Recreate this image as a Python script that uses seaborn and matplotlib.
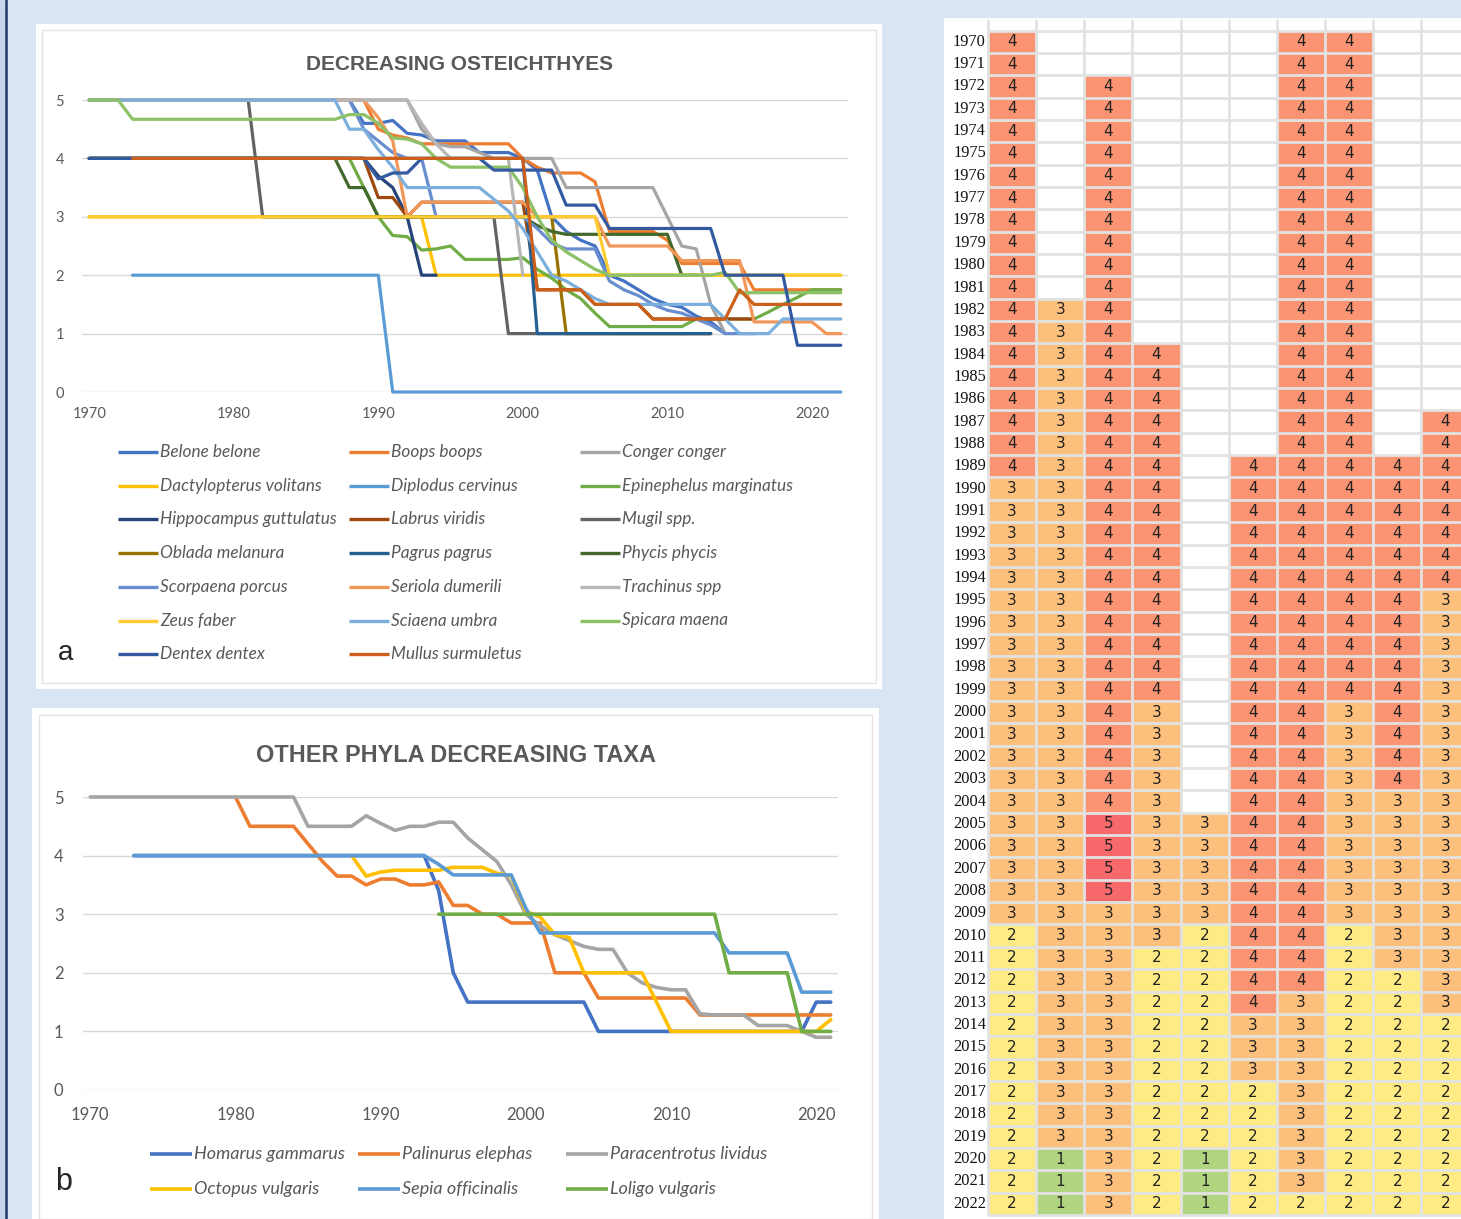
import numpy as np
import pandas as pd
import matplotlib
matplotlib.use("Agg")
import matplotlib.pyplot as plt
from matplotlib.colors import LinearSegmentedColormap
from matplotlib.patches import Rectangle
from matplotlib.lines import Line2D
import seaborn as sns

N = None

# ---------------- panel a: decreasing Osteichthyes (yearly, 1970-2022) ----------------
YEAR0_A = 1970
species_a = ['Belone belone', 'Boops boops', 'Conger conger',
             'Dactylopterus volitans', 'Diplodus cervinus', 'Epinephelus marginatus',
             'Hippocampus guttulatus', 'Labrus viridis', 'Mugil spp.',
             'Oblada melanura', 'Pagrus pagrus', 'Phycis phycis',
             'Scorpaena porcus', 'Seriola dumerili', 'Trachinus spp',
             'Zeus faber', 'Sciaena umbra', 'Spicara maena',
             'Dentex dentex', 'Mullus surmuletus']
colors_a = ['#4472C4', '#ED7D31', '#A5A5A5', '#FFC000', '#5B9BD5', '#70AD47',
            '#264478', '#9E480E', '#636363', '#997300', '#255E91', '#43682B',
            '#698ED0', '#F1975A', '#B7B7B7', '#FFCD33', '#7CAFDD', '#8CC168',
            '#335AA1', '#CC5F1A']

belone = [5, 5, 5, 5, 5, 5, 5, 5, 5, 5,
          5, 5, 5, 5, 5, 5, 5, 5, 5, 4.6,
          4.6, 4.65, 4.43, 4.4, 4.3, 4.3, 4.3, 4.1, 4.1, 4.1,
          4.0, 3.8, 3.0, 2.75, 2.6, 2.5, 2.0, 1.9, 1.75, 1.6,
          1.5, 1.45, 1.3, 1.2, 1.0, N, N, N, N, N,
          N, N, N]
boops = [5, 5, 5, 5, 5, 5, 5, 5, 5, 5,
         5, 5, 5, 5, 5, 5, 5, 5, 5, 5,
         4.5, 4.4, 4.35, 4.25, 4.25, 4.25, 4.25, 4.25, 4.25, 4.25,
         4.0, 3.85, 3.75, 3.75, 3.75, 3.6, 2.75, 2.75, 2.75, 2.75,
         2.6, 2.2, 2.2, 2.2, 2.2, 2.2, 1.75, 1.75, 1.75, 1.75,
         1.75, 1.75, 1.75]
conger = [5, 5, 5, 5, 5, 5, 5, 5, 5, 5,
          5, 5, 5, 5, 5, 5, 5, 5, 5, 5,
          5, 5, 5, 4.5, 4.25, 4.2, 4.2, 4.1, 4.0, 4.0,
          4.0, 4.0, 4.0, 3.5, 3.5, 3.5, 3.5, 3.5, 3.5, 3.5,
          3.0, 2.5, 2.45, 1.5, 1.0, N, N, N, N, N,
          N, N, N]
dactylopterus = [3, 3, 3, 3, 3, 3, 3, 3, 3, 3,
                 3, 3, 3, 3, 3, 3, 3, 3, 3, 3,
                 3, 3, 3, 3, 2, 2, 2, 2, 2, 2,
                 2, 2, 2, 2, 2, 2, 2, 2, 2, 2,
                 2, 2, 2, 2, 2, 2, 2, 2, 2, 2,
                 2, 2, 2]
diplodus = [N, N, N, 2, 2, 2, 2, 2, 2, 2,
            2, 2, 2, 2, 2, 2, 2, 2, 2, 2,
            2, 0, 0, 0, 0, 0, 0, 0, 0, 0,
            0, 0, 0, 0, 0, 0, 0, 0, 0, 0,
            0, 0, 0, 0, 0, 0, 0, 0, 0, 0,
            0, 0, 0]
epinephelus = [4, 4, 4, 4, 4, 4, 4, 4, 4, 4,
               4, 4, 4, 4, 4, 4, 4, 4, 4, 3.5,
               3.0, 2.68, 2.66, 2.43, 2.45, 2.5, 2.27, 2.27, 2.27, 2.27,
               2.3, 2.1, 1.95, 1.75, 1.6, 1.35, 1.12, 1.12, 1.12, 1.12,
               1.12, 1.12, 1.25, 1.25, 1.25, 1.25, 1.25, 1.37, 1.5, 1.62,
               1.75, 1.75, 1.75]
hippocampus = [4, 4, 4, 4, 4, 4, 4, 4, 4, 4,
               4, 4, 4, 4, 4, 4, 4, 4, 4, 4,
               3.7, 3.5, 3.0, 2.0, 2.0, N, N, N, N, N,
               N, N, N, N, N, N, N, N, N, N,
               N, N, N, N, N, N, N, N, N, N,
               N, N, N]
labrus = [4, 4, 4, 4, 4, 4, 4, 4, 4, 4,
          4, 4, 4, 4, 4, 4, 4, 4, 4, 4,
          3.33, 3.33, 3.0, 3.25, 3.25, 3.25, 3.25, 3.25, 3.25, 3.25,
          3.25, 1.75, 1.75, 1.75, 1.75, 1.5, 1.5, 1.5, 1.5, 1.25,
          1.25, 1.25, 1.25, 1.25, 1.25, 1.25, 1.25, N, N, N,
          N, N, N]
mugil = [N, N, N, N, N, 5, 5, 5, 5, 5,
         5, 5, 3, 3, 3, 3, 3, 3, 3, 3,
         3, 3, 3, 3, 3, 3, 3, 3, 3, 1,
         1, 1, 1, 1, 1, 1, 1, 1, 1, 1,
         1, 1, 1, 1, N, N, N, N, N, N,
         N, N, N]
oblada = [N, N, N, N, N, N, N, N, N, N,
          N, N, N, N, N, N, N, N, N, N,
          3, 3, 3, 3, 3, 3, 3, 3, 3, 3,
          3, 3, 3, 1, 1, 1, 1, 1, 1, 1,
          1, 1, 1, 1, N, N, N, N, N, N,
          N, N, N]
pagrus = [4, 4, 4, 4, 4, 4, 4, 4, 4, 4,
          4, 4, 4, 4, 4, 4, 4, 4, 4, 4,
          4, 4, 4, 4, 4, 4, 4, 4, 4, 4,
          4, 1, 1, 1, 1, 1, 1, 1, 1, 1,
          1, 1, 1, 1, N, N, N, N, N, N,
          N, N, N]
phycis = [4, 4, 4, 4, 4, 4, 4, 4, 4, 4,
          4, 4, 4, 4, 4, 4, 4, 4, 3.5, 3.5,
          3, 3, 3, 3, 3, 3, 3, 3, 3, 3,
          3.0, 2.85, 2.75, 2.7, 2.7, 2.7, 2.7, 2.7, 2.7, 2.7,
          2.7, 2.0, 2.0, N, N, N, N, N, N, N,
          N, N, N]
scorpaena = [5, 5, 5, 5, 5, 5, 5, 5, 5, 5,
             5, 5, 5, 5, 5, 5, 5, 5, 5, 4.5,
             4.3, 4.1, 4.0, 4.0, 3.0, 3.0, 3.0, 3.0, 3.0, 3.0,
             3.0, 2.8, 2.55, 2.45, 2.45, 2.45, 1.9, 1.75, 1.65, 1.5,
             1.4, 1.35, 1.25, 1.15, 1.0, 1.0, 1.0, N, N, N,
             N, N, N]
seriola = [5, 5, 5, 5, 5, 5, 5, 5, 5, 5,
           5, 5, 5, 5, 5, 5, 5, 5, 5, 5,
           4.7, 4.3, 3.0, 3.25, 3.25, 3.25, 3.25, 3.25, 3.25, 3.25,
           3.25, 3.0, 3.0, 3.0, 3.0, 3.0, 2.5, 2.5, 2.5, 2.5,
           2.5, 2.25, 2.25, 2.25, 2.25, 2.25, 1.2, 1.2, 1.2, 1.2,
           1.2, 1.0, 1.0]
trachinus = [5, 5, 5, 5, 5, 5, 5, 5, 5, 5,
             5, 5, 5, 5, 5, 5, 5, 5, 5, 5,
             5, 5, 5, 4.6, 4.25, 4.0, 4.0, 4.0, 4.0, 4.0,
             2.0, N, N, N, N, N, N, N, N, N,
             N, N, N, N, N, N, N, N, N, N,
             N, N, N]
zeus = [3, 3, 3, 3, 3, 3, 3, 3, 3, 3,
        3, 3, 3, 3, 3, 3, 3, 3, 3, 3,
        3, 3, 3, 3, 3, 3, 3, 3, 3, 3,
        3, 3, 3, 3, 3, 3, 2, 2, 2, 2,
        2, 2, 2, 2, 2, 2, 2, 2, 2, 2,
        2, 2, 2]
sciaena = [5, 5, 5, 5, 5, 5, 5, 5, 5, 5,
           5, 5, 5, 5, 5, 5, 5, 5, 4.5, 4.5,
           4.15, 3.85, 3.5, 3.5, 3.5, 3.5, 3.5, 3.5, 3.3, 3.1,
           2.8, 2.4, 2.0, 1.9, 1.75, 1.6, 1.5, 1.5, 1.5, 1.5,
           1.5, 1.5, 1.5, 1.5, 1.25, 1.0, 1.0, 1.0, 1.25, 1.25,
           1.25, 1.25, 1.25]
spicara = [5, 5, 5, 4.67, 4.67, 4.67, 4.67, 4.67, 4.67, 4.67,
           4.67, 4.67, 4.67, 4.67, 4.67, 4.67, 4.67, 4.67, 4.75, 4.75,
           4.6, 4.35, 4.33, 4.25, 4.0, 3.85, 3.85, 3.85, 3.85, 3.85,
           3.5, 3.0, 2.6, 2.4, 2.25, 2.1, 2.0, 2.0, 2.0, 2.0,
           2.0, 2.0, 2.0, 2.0, 2.05, 1.7, 1.7, 1.7, 1.7, 1.7,
           1.7, 1.7, 1.7]
dentex = [4, 4, 4, 4, 4, 4, 4, 4, 4, 4,
          4, 4, 4, 4, 4, 4, 4, 4, 4, 4,
          3.65, 3.75, 3.75, 4.0, 4.0, 4.0, 4.0, 4.0, 3.8, 3.8,
          3.8, 3.8, 3.8, 3.2, 3.2, 3.2, 2.8, 2.8, 2.8, 2.8,
          2.8, 2.8, 2.8, 2.8, 2.0, 2.0, 2.0, 2.0, 2.0, 0.8,
          0.8, 0.8, 0.8]
mullus = [N, N, N, 4, 4, 4, 4, 4, 4, 4,
          4, 4, 4, 4, 4, 4, 4, 4, 4, 4,
          4, 4, 4, 4, 4, 4, 4, 4, 4, 4,
          4, 1.75, 1.75, 1.75, 1.75, 1.5, 1.5, 1.5, 1.5, 1.25,
          1.25, 1.25, 1.25, 1.25, 1.25, 1.75, 1.5, 1.5, 1.5, 1.5,
          1.5, 1.5, 1.5]
series_a = [belone, boops, conger, dactylopterus, diplodus, epinephelus,
            hippocampus, labrus, mugil, oblada, pagrus, phycis,
            scorpaena, seriola, trachinus, zeus, sciaena, spicara,
            dentex, mullus]

# ---------------- panel b: other phyla (yearly, 1970-2021) ----------------
YEAR0_B = 1970
species_b = ['Homarus gammarus', 'Palinurus elephas', 'Paracentrotus lividus',
             'Octopus vulgaris', 'Sepia officinalis', 'Loligo vulgaris']
colors_b = ['#4472C4', '#ED7D31', '#A5A5A5', '#FFC000', '#5B9BD5', '#70AD47']

homarus = [N, N, N, 4, 4, 4, 4, 4, 4, 4,
           4, 4, 4, 4, 4, 4, 4, 4, 4, 4,
           4, 4, 4, 4, 3.4, 2.0, 1.5, 1.5, 1.5, 1.5,
           1.5, 1.5, 1.5, 1.5, 1.5, 1.0, 1.0, 1.0, 1.0, 1.0,
           1.0, 1.0, 1.0, 1.0, 1.0, 1.0, 1.0, 1.0, 1.0, 1.0,
           1.5, 1.5]
palinurus = [N, N, N, N, N, N, N, N, N, N,
             5, 4.5, 4.5, 4.5, 4.5, 4.2, 3.9, 3.65, 3.65, 3.5,
             3.6, 3.6, 3.5, 3.5, 3.55, 3.15, 3.15, 3.0, 3.0, 2.85,
             2.85, 2.85, 2.0, 2.0, 2.0, 1.57, 1.57, 1.57, 1.57, 1.57,
             1.57, 1.57, 1.28, 1.28, 1.28, 1.28, 1.28, 1.28, 1.28, 1.28,
             1.28, 1.28]
paracentrotus = [5, 5, 5, 5, 5, 5, 5, 5, 5, 5,
                 5, 5, 5, 5, 5, 4.5, 4.5, 4.5, 4.5, 4.68,
                 4.55, 4.43, 4.5, 4.5, 4.57, 4.57, 4.3, 4.1, 3.9, 3.5,
                 3.0, 2.8, 2.65, 2.55, 2.45, 2.4, 2.4, 2.0, 1.83, 1.75,
                 1.71, 1.71, 1.3, 1.28, 1.28, 1.28, 1.1, 1.1, 1.1, 1.0,
                 0.9, 0.9]
octopus = [N, N, N, N, N, N, N, N, N, N,
           N, N, N, N, N, N, N, N, 4.0, 3.65,
           3.72, 3.75, 3.75, 3.75, 3.75, 3.8, 3.8, 3.8, 3.7, 3.65,
           3.05, 2.95, 2.65, 2.6, 2.0, 2.0, 2.0, 2.0, 2.0, 1.5,
           1.0, 1.0, 1.0, 1.0, 1.0, 1.0, 1.0, 1.0, 1.0, 1.0,
           1.0, 1.2]
sepia = [N, N, N, 4, 4, 4, 4, 4, 4, 4,
         4, 4, 4, 4, 4, 4, 4, 4, 4, 4,
         4, 4, 4, 4, 3.85, 3.67, 3.67, 3.67, 3.67, 3.67,
         3.1, 2.68, 2.68, 2.68, 2.68, 2.68, 2.68, 2.68, 2.68, 2.68,
         2.68, 2.68, 2.68, 2.68, 2.34, 2.34, 2.34, 2.34, 2.34, 1.67,
         1.67, 1.67]
loligo = [N, N, N, N, N, N, N, N, N, N,
          N, N, N, N, N, N, N, N, N, N,
          N, N, N, N, 3, 3, 3, 3, 3, 3,
          3, 3, 3, 3, 3, 3, 3, 3, 3, 3,
          3, 3, 3, 3, 2, 2, 2, 2, 2, 1.0,
          1.0, 1.0]
series_b = [homarus, palinurus, paracentrotus, octopus, sepia, loligo]

# ---------------- heat table: class per year (1970-2022), ten taxa ----------------
heat_years = list(range(1970, 2023))
heat_t1 = [4, 4, 4, 4, 4, 4, 4, 4, 4, 4,
           4, 4, 4, 4, 4, 4, 4, 4, 4, 4,
           3, 3, 3, 3, 3, 3, 3, 3, 3, 3,
           3, 3, 3, 3, 3, 3, 3, 3, 3, 3,
           2, 2, 2, 2, 2, 2, 2, 2, 2, 2,
           2, 2, 2]
heat_t2 = [N, N, N, N, N, N, N, N, N, N,
           N, N, 3, 3, 3, 3, 3, 3, 3, 3,
           3, 3, 3, 3, 3, 3, 3, 3, 3, 3,
           3, 3, 3, 3, 3, 3, 3, 3, 3, 3,
           3, 3, 3, 3, 3, 3, 3, 3, 3, 3,
           1, 1, 1]
heat_t3 = [N, N, 4, 4, 4, 4, 4, 4, 4, 4,
           4, 4, 4, 4, 4, 4, 4, 4, 4, 4,
           4, 4, 4, 4, 4, 4, 4, 4, 4, 4,
           4, 4, 4, 4, 4, 5, 5, 5, 5, 3,
           3, 3, 3, 3, 3, 3, 3, 3, 3, 3,
           3, 3, 3]
heat_t4 = [N, N, N, N, N, N, N, N, N, N,
           N, N, N, N, 4, 4, 4, 4, 4, 4,
           4, 4, 4, 4, 4, 4, 4, 4, 4, 4,
           3, 3, 3, 3, 3, 3, 3, 3, 3, 3,
           3, 2, 2, 2, 2, 2, 2, 2, 2, 2,
           2, 2, 2]
heat_t5 = [N, N, N, N, N, N, N, N, N, N,
           N, N, N, N, N, N, N, N, N, N,
           N, N, N, N, N, N, N, N, N, N,
           N, N, N, N, N, 3, 3, 3, 3, 3,
           2, 2, 2, 2, 2, 2, 2, 2, 2, 2,
           1, 1, 1]
heat_t6 = [N, N, N, N, N, N, N, N, N, N,
           N, N, N, N, N, N, N, N, N, 4,
           4, 4, 4, 4, 4, 4, 4, 4, 4, 4,
           4, 4, 4, 4, 4, 4, 4, 4, 4, 4,
           4, 4, 4, 4, 3, 3, 3, 2, 2, 2,
           2, 2, 2]
heat_t7 = [4, 4, 4, 4, 4, 4, 4, 4, 4, 4,
           4, 4, 4, 4, 4, 4, 4, 4, 4, 4,
           4, 4, 4, 4, 4, 4, 4, 4, 4, 4,
           4, 4, 4, 4, 4, 4, 4, 4, 4, 4,
           4, 4, 4, 3, 3, 3, 3, 3, 3, 3,
           3, 3, 2]
heat_t8 = [4, 4, 4, 4, 4, 4, 4, 4, 4, 4,
           4, 4, 4, 4, 4, 4, 4, 4, 4, 4,
           4, 4, 4, 4, 4, 4, 4, 4, 4, 4,
           3, 3, 3, 3, 3, 3, 3, 3, 3, 3,
           2, 2, 2, 2, 2, 2, 2, 2, 2, 2,
           2, 2, 2]
heat_t9 = [N, N, N, N, N, N, N, N, N, N,
           N, N, N, N, N, N, N, N, N, 4,
           4, 4, 4, 4, 4, 4, 4, 4, 4, 4,
           4, 4, 4, 4, 3, 3, 3, 3, 3, 3,
           3, 3, 2, 2, 2, 2, 2, 2, 2, 2,
           2, 2, 2]
heat_t10 = [N, N, N, N, N, N, N, N, N, N,
            N, N, N, N, N, N, N, 4, 4, 4,
            4, 4, 4, 4, 4, 3, 3, 3, 3, 3,
            3, 3, 3, 3, 3, 3, 3, 3, 3, 3,
            3, 3, 3, 3, 2, 2, 2, 2, 2, 2,
            2, 2, 2]
heat_cols = [heat_t1, heat_t2, heat_t3, heat_t4, heat_t5,
             heat_t6, heat_t7, heat_t8, heat_t9, heat_t10]


def long_frame(names, series, year0):
    rows = []
    for name, vals in zip(names, series):
        for i, v in enumerate(vals):
            if v is not None:
                rows.append((year0 + i, float(v), name))
    return pd.DataFrame(rows, columns=['year', 'value', 'species'])


df_a = long_frame(species_a, series_a, YEAR0_A)
df_b = long_frame(species_b, series_b, YEAR0_B)
heat = pd.DataFrame({f't{i + 1}': np.array(c, dtype=float) for i, c in enumerate(heat_cols)},
                    index=heat_years)

# ---------------- figure ----------------
sns.set_theme(style="white")
plt.rcParams['font.family'] = ['Lato', 'DejaVu Sans']

W, H = 1461, 1219
fig = plt.figure(figsize=(W / 100, H / 100), dpi=100)
fig.patch.set_facecolor('#d9e5f2')


def box(x0, y0, x1, y1):
    return [x0 / W, 1 - y1 / H, (x1 - x0) / W, (y1 - y0) / H]


def card(x0, y0, x1, y1, inset):
    b = box(x0, y0, x1, y1)
    fig.add_artist(Rectangle((b[0], b[1]), b[2], b[3], transform=fig.transFigure,
                             facecolor='white', edgecolor='none', zorder=-10))
    b2 = box(x0 + inset, y0 + inset, x1 - inset, y1 - inset)
    fig.add_artist(Rectangle((b2[0], b2[1]), b2[2], b2[3], transform=fig.transFigure,
                             facecolor='none', edgecolor='#e4e4e4', lw=1.0, zorder=-9))


# page edge
fig.add_artist(Rectangle((0, 0), 4.5 / W, 1, transform=fig.transFigure,
                         facecolor='#c6d6ea', edgecolor='none', zorder=-10))
fig.add_artist(Line2D([5.6 / W, 5.6 / W], [0, 1], transform=fig.transFigure,
                      color='#1f3864', lw=1.8, zorder=-8))

card(36, 24, 882, 689, 6)
card(32, 708, 879, 1226, 7)
fig.add_artist(Rectangle((944 / W, 0), (W - 944) / W, 1 - 18 / H, transform=fig.transFigure,
                         facecolor='white', edgecolor='none', zorder=-10))

TXT = '#595959'


def line_panel(rect, df, names, colors, xmax, lw, tick_fs, ypad, xpad):
    ax = fig.add_axes(box(*rect))
    ax.set_facecolor('none')
    sns.lineplot(data=df, x='year', y='value', hue='species', hue_order=names,
                 palette=dict(zip(names, colors)), estimator=None, legend=False,
                 linewidth=lw, ax=ax, clip_on=False)
    ax.set_xlim(1969.5, xmax)
    ax.set_ylim(0, 5)
    ax.set_xticks([1970, 1980, 1990, 2000, 2010, 2020])
    ax.set_yticks([0, 1, 2, 3, 4, 5])
    ax.grid(axis='y', color='#d9d9d9', lw=1.0)
    ax.grid(axis='x', visible=False)
    ax.set_axisbelow(True)
    for s in ax.spines.values():
        s.set_visible(False)
    ax.tick_params(axis='both', length=0, labelsize=tick_fs, labelcolor=TXT)
    ax.tick_params(axis='y', pad=ypad)
    ax.tick_params(axis='x', pad=xpad)
    ax.set_xlabel('')
    ax.set_ylabel('')
    return ax


ax_a = line_panel((82, 100, 848, 392), df_a, species_a, colors_a, 2022.5, 2.3, 10.5, 13, 11)
ax_b = line_panel((83, 797, 838, 1090), df_b, species_b, colors_b, 2021.5, 2.6, 12, 14, 12)

TITLE_FONT = ['Liberation Sans', 'DejaVu Sans']
fig.text(460 / W, 1 - 64 / H, 'DECREASING OSTEICHTHYES', ha='center', va='center',
         fontsize=15.0, fontweight='bold', color=TXT, family=TITLE_FONT)
fig.text(456 / W, 1 - 756 / H, 'OTHER PHYLA DECREASING TAXA', ha='center', va='center',
         fontsize=16.9, fontweight='bold', color=TXT, family=TITLE_FONT)


def legend_grid(names, colors, x0, y0, dx, dy, handle, lw, fs):
    for i, (name, col) in enumerate(zip(names, colors)):
        r, c = divmod(i, 3)
        x = x0 + c * dx
        y = y0 + r * dy
        fig.add_artist(Line2D([x / W, (x + handle) / W], [1 - y / H, 1 - y / H],
                              transform=fig.transFigure, color=col, lw=lw,
                              solid_capstyle='butt'))
        fig.text((x + handle + 2) / W, 1 - y / H, name, ha='left', va='center',
                 fontsize=fs, fontstyle='italic', color=TXT)


legend_grid(species_a, colors_a, 118, 452, 231, 33.7, 40, 2.4, 12.4)
legend_grid(species_b, colors_b, 150, 1154, 208, 35, 42, 2.6, 13.0)

fig.text(66 / W, 1 - 653 / H, 'a', ha='center', va='center', fontsize=20,
         family='Liberation Sans', color='#262626')
fig.text(64 / W, 1 - 1182 / H, 'b', ha='center', va='center', fontsize=22,
         family='Liberation Sans', color='#262626')

# ---------------- heat table ----------------
cmap = LinearSegmentedColormap.from_list(
    'class_scale', [(0.0, '#63BE7B'), (0.4, '#FFEB84'), (1.0, '#F8696B')])
ax_h = fig.add_axes(box(988, 30.5, 1469.5, 1215))
sns.heatmap(heat, ax=ax_h, cmap=cmap, vmin=0, vmax=5, annot=True, fmt='.0f',
            annot_kws={'fontsize': 11, 'color': '#222222', 'family': 'DejaVu Sans'},
            cbar=False, linewidths=0, xticklabels=False, yticklabels=heat_years)
n_rows, n_cols = heat.shape
ax_h.hlines(np.arange(n_rows + 1), 0, n_cols, color='#e2e2e2', lw=2, zorder=3, clip_on=False)
ax_h.vlines(np.arange(n_cols + 1), -0.5, n_rows, color='#e2e2e2', lw=2, zorder=3, clip_on=False)
ax_h.set_yticklabels(heat_years, rotation=0, fontsize=11.8, family='Liberation Serif',
                     color='#111111')
ax_h.tick_params(axis='y', length=0, pad=1.5)
ax_h.set_xlabel('')
ax_h.set_ylabel('')

fig.savefig('out.png', dpi=100, facecolor=fig.get_facecolor())
